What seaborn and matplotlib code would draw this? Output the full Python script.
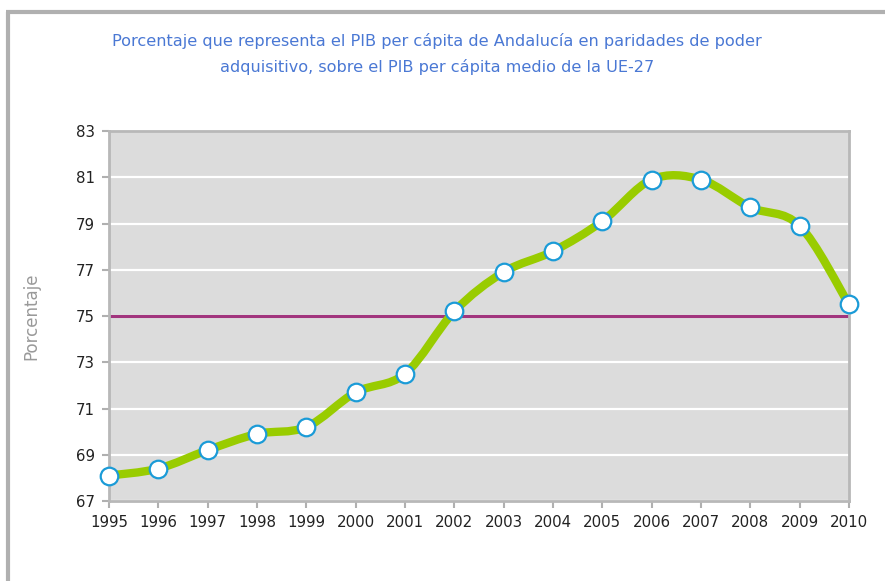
import numpy as np
import pandas as pd
import seaborn as sns
import matplotlib.pyplot as plt
from matplotlib.path import Path
from matplotlib.patches import PathPatch
from matplotlib.lines import Line2D

years = [1995, 1996, 1997, 1998, 1999, 2000, 2001, 2002,
         2003, 2004, 2005, 2006, 2007, 2008, 2009, 2010]
pct = [68.1, 68.4, 69.2, 69.9, 70.2, 71.7, 72.5, 75.2,
       76.9, 77.8, 79.1, 80.9, 80.9, 79.7, 78.9, 75.5]
ref_level = 75
yticks = [67, 69, 71, 73, 75, 77, 79, 81, 83]

title = ("Porcentaje que representa el PIB per cápita de Andalucía en paridades de poder\n"
         "adquisitivo, sobre el PIB per cápita medio de la UE-27")

df = pd.DataFrame({"year": years, "pct": pct})

sns.set_style("white")
plt.rcParams["font.family"] = ["DejaVu Sans"]

fig = plt.figure(figsize=(8.85, 5.81), dpi=100)
ax = fig.add_axes([0.1232, 0.1377, 0.8361, 0.6368])
ax.set_facecolor("#dcdcdc")

for v in yticks:
    ax.axhline(v, color="white", lw=1.6, zorder=1)
ax.axhline(ref_level, color="#a2357e", lw=2.2, zorder=2)

# smoothed line (Excel style smoothing: Catmull-Rom -> bezier)
pts = df[["year", "pct"]].to_numpy(dtype=float)
ext = np.vstack([pts[0], pts, pts[-1]])
verts = [tuple(pts[0])]
codes = [Path.MOVETO]
for i in range(1, len(ext) - 2):
    p0, p1, p2, p3 = ext[i - 1], ext[i], ext[i + 1], ext[i + 2]
    c1 = p1 + (p2 - p0) / 6
    c2 = p2 - (p3 - p1) / 6
    verts += [tuple(c1), tuple(c2), tuple(p2)]
    codes += [Path.CURVE4] * 3
ax.add_patch(PathPatch(Path(verts, codes), facecolor="none", edgecolor="#99cc00",
                       lw=6, capstyle="round", joinstyle="round", zorder=3))

sns.scatterplot(data=df, x="year", y="pct", ax=ax, s=160, color="white",
                edgecolor="#1b9bd7", linewidth=1.6, zorder=4, clip_on=False)

ax.set_xlim(1995, 2010)
ax.set_ylim(67, 83)
ax.set_xticks(years)
ax.set_yticks(yticks)
ax.tick_params(axis="both", direction="out", length=5, width=1.5, color="#b0b0b0",
               labelsize=10.8, labelcolor="#222222", pad=5)
ax.tick_params(axis="x", bottom=True)
ax.tick_params(axis="y", left=True)
for s in ax.spines.values():
    s.set_color("#b8b8b8")
    s.set_linewidth(2)
ax.set_xlabel("")
ax.set_ylabel("Porcentaje", color="#999999", fontsize=12, labelpad=26)

fig.text(0.494, 0.907, title, ha="center", va="center", color="#4a78d4",
         fontsize=11.6, linespacing=1.75)

# outer frame
fig.add_artist(Line2D([8 / 885, 8 / 885], [0, 1 - 12 / 581], color="#b0b0b0", lw=3,
                      solid_capstyle="butt", transform=fig.transFigure))
fig.add_artist(Line2D([6 / 885, 1], [1 - 12 / 581, 1 - 12 / 581], color="#b0b0b0", lw=3,
                      solid_capstyle="butt", transform=fig.transFigure))

fig.savefig("out.png", dpi=100)
